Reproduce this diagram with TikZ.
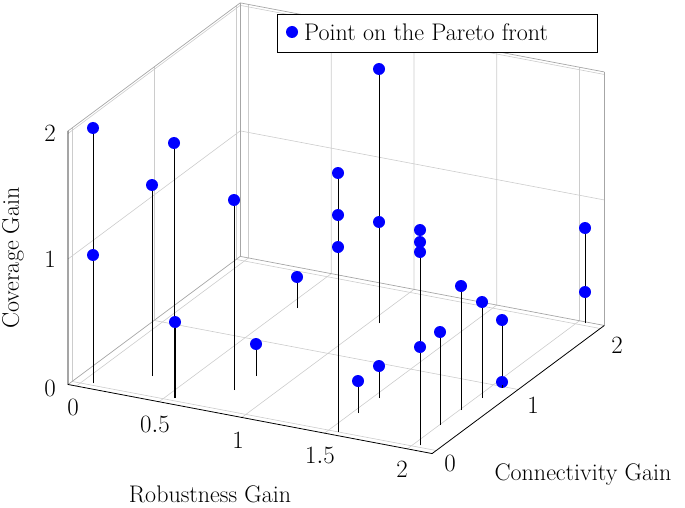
\documentclass[tikz,border=0pt]{standalone}
\usepackage{fontspec}
\setmainfont{Latin Modern Roman}
\begin{document}
\begin{tikzpicture}[x=1pt,y=1pt,
  dot/.style={circle,fill=blue,inner sep=0pt,minimum size=12pt},
  stem/.style={black,line width=0.7pt},
  gridl/.style={gray!40,line width=0.6pt},
  boxl/.style={gray!70,line width=0.7pt},
  axl/.style={black,line width=0.8pt},
  lbl/.style={font=\fontsize{24}{28}\selectfont}]
\useasboundingbox (0,0) rectangle (685,-508);
\begin{scope}[shift={(80.4pt,-383pt)},x={(165.5pt,-31.4pt)},y={(82pt,61pt)},z={(0pt,125.5pt)}]
\def\xa{-0.05}\def\xb{2.15}\def\ya{-0.05}\def\yb{2.05}\def\zb{2.02}
% grid
\foreach \t in {0,0.5,1,1.5,2}{
  \draw[gridl] (\t,\ya,0) -- (\t,\yb,0) -- (\t,\yb,\zb);}
\foreach \t in {0,1,2}{
  \draw[gridl] (\xa,\t,0) -- (\xb,\t,0);
  \draw[gridl] (\xa,\t,0) -- (\xa,\t,\zb);}
\foreach \t in {1,2}{
  \draw[gridl] (\xa,\ya,\t) -- (\xa,\yb,\t) -- (\xb,\yb,\t);}
% box
\draw[boxl] (\xa,\yb,0) -- (\xa,\yb,\zb);
\draw[boxl] (\xa,\ya,0) -- (\xa,\yb,0) -- (\xb,\yb,0);
\draw[boxl] (\xb,\yb,0) -- (\xb,\yb,\zb);
\draw[boxl] (\xa,\ya,\zb) -- (\xa,\yb,\zb) -- (\xb,\yb,\zb);
\draw[axl] (\xa,\ya,\zb) -- (\xa,\ya,0) -- (\xb,\ya,0) -- (\xb,\yb,0);
\end{scope}
% stems (pixel coords)
\foreach \x/\yt/\yb [count=\i] in {93/128/383,93/255/383,152/185/376,174/143/398,175/322/398,234/200/390,256/344/376,297/277/308,338/173/432,338/215/432,338/247/432,379/69/323,379/222/323,358/381/413,379/366/398,420/230/445,420/242/445,420/252/445,420/347/445,440/332/425,461/286/410,482/302/398,502/320/385,502/382/385,585/228/323,585/292/323}{
  \coordinate (b\i) at (\x,-\yb);
  \node[dot] (p\i) at (\x,-\yt) {};
  \draw[stem] (b\i) -- (p\i);}
% tick labels
\foreach \l/\px/\py [count=\i] in {0/73/407,0.5/155/424,1/238/440,1.5/320/455,2/402/469}
  \node[lbl] (xt\i) at (\px,-\py) {$\l$};
\foreach \l/\px/\py [count=\i] in {0/450/463,1/533/405,2/617/345}
  \node[lbl] (yt\i) at (\px,-\py) {$\l$};
\foreach \l/\px/\py [count=\i] in {0/50/388,1/50/259,2/50/133}
  \node[lbl] (zt\i) at (\px,-\py) {$\l$};
\node[lbl] (xl) at (210,-494) {Robustness Gain};
\node[lbl] (yl) at (583,-475) {Connectivity Gain};
\node[lbl,rotate=90] (zl) at (13,-258) {Coverage Gain};
% legend
\draw[black,fill=white,line width=0.7pt] (277,-14) rectangle (597,-52);
\node[dot] (ld) at (292,-32) {};
\node[lbl,anchor=west,inner sep=2pt] (lt) at (302,-32) {Point on the Pareto front};
\end{tikzpicture}
\end{document}
